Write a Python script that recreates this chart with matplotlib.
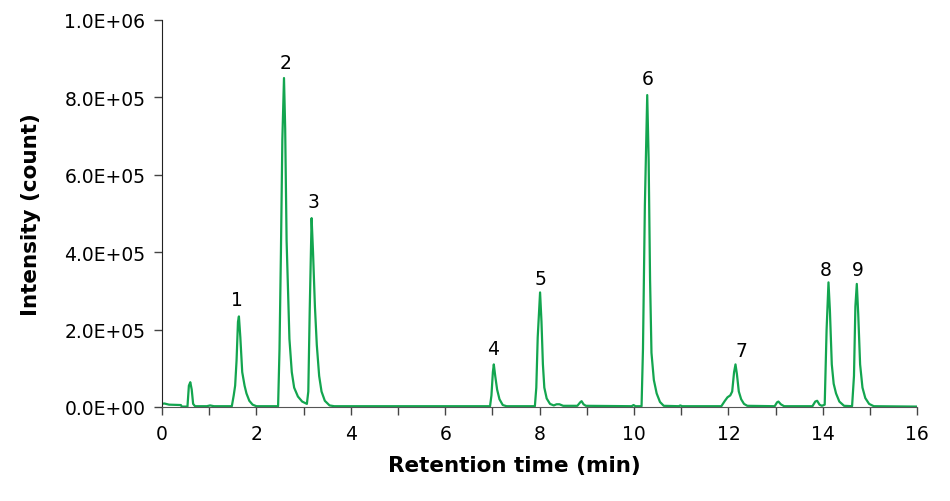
import matplotlib
matplotlib.use("Agg")
import matplotlib.pyplot as plt
from matplotlib.ticker import FuncFormatter, MultipleLocator

# trace vertices: time (min), intensity (count)
time = [0.00, 0.05, 0.15, 0.40, 0.42, 0.54, 0.57, 0.60, 0.63, 0.66, 0.70,
        0.95, 1.02, 1.10, 1.48, 1.52, 1.55, 1.58, 1.61, 1.63, 1.66, 1.70,
        1.75, 1.79, 1.85, 1.92, 2.00, 2.46, 2.49, 2.52, 2.55, 2.585, 2.61,
        2.64, 2.70, 2.75, 2.80, 2.88, 2.97, 3.07, 3.10, 3.13, 3.17, 3.20,
        3.24, 3.28, 3.33, 3.38, 3.45, 3.55, 3.65, 6.95, 6.98, 7.01, 7.03,
        7.06, 7.10, 7.15, 7.22, 7.30, 7.90, 7.93, 7.96, 8.01, 8.04, 8.07,
        8.10, 8.15, 8.22, 8.30, 8.36, 8.42, 8.50, 8.80, 8.86, 8.89, 8.93,
        8.98, 9.95, 9.99, 10.03, 10.16, 10.19, 10.23, 10.28, 10.31, 10.34,
        10.37, 10.42, 10.48, 10.55, 10.63, 10.95, 10.98, 11.02, 11.85, 11.92,
        11.98, 12.04, 12.08, 12.12, 12.15, 12.18, 12.22, 12.27, 12.33, 12.40,
        12.98, 13.03, 13.06, 13.11, 13.18, 13.78, 13.84, 13.88, 13.93, 13.98,
        14.04, 14.08, 14.12, 14.15, 14.19, 14.23, 14.28, 14.35, 14.45, 14.62,
        14.66, 14.69, 14.72, 14.75, 14.79, 14.84, 14.90, 14.98, 15.08, 16.00]
intensity = [8e3, 9e3, 6e3, 5e3, 1e3, 1e3, 5.5e4, 6.4e4, 4.5e4, 8e3, 2e3,
             2e3, 4e3, 2e3, 2e3, 3e4, 5.5e4, 1.2e5, 2.2e5, 2.34e5, 1.8e5, 9e4,
             5.5e4, 3.5e4, 1.6e4, 6e3, 2e3, 2e3, 1.5e5, 4e5, 6.9e5, 8.5e5, 7.2e5,
             4.3e5, 1.76e5, 9e4, 5e4, 2.7e4, 1.4e4, 8e3, 4e4, 2.5e5, 4.88e5, 4e5,
             2.6e5, 1.6e5, 8e4, 4e4, 1.6e4, 4e3, 2e3, 2e3, 3e4, 9e4, 1.1e5,
             8e4, 4.5e4, 2e4, 5e3, 2e3, 2e3, 5e4, 1.8e5, 2.96e5, 2.2e5, 1.1e5,
             5e4, 2.2e4, 8e3, 4e3, 7e3, 7e3, 3e3, 3e3, 1.2e4, 1.5e4, 7e3,
             3e3, 2e3, 5e3, 2e3, 2e3, 1.5e5, 5.2e5, 8.06e5, 6.4e5, 3.3e5,
             1.4e5, 7e4, 3.5e4, 1.3e4, 3e3, 2e3, 4e3, 2e3, 2e3, 1.5e4,
             2.5e4, 3e4, 4e4, 9e4, 1.1e5, 8.5e4, 4e4, 2e4, 8e3, 3e3,
             2e3, 1.2e4, 1.4e4, 7e3, 2e3, 2e3, 1.4e4, 1.6e4, 6e3, 3e3,
             6e3, 2e5, 3.22e5, 2.5e5, 1.1e5, 6e4, 3.5e4, 1.4e4, 3e3, 2e3,
             8e4, 2.6e5, 3.18e5, 2.4e5, 1.1e5, 5e4, 2.3e4, 8e3, 2e3, 1e3]

# peak numbers and where they sit
peak_labels = ["1", "2", "3", "4", "5", "6", "7", "8", "9"]
label_t = [1.59, 2.61, 3.20, 7.01, 8.01, 10.28, 12.27, 14.07, 14.75]
label_i = [2.79e5, 8.91e5, 5.30e5, 1.50e5, 3.31e5, 8.48e5, 1.45e5, 3.54e5, 3.54e5]

fig = plt.figure(figsize=(9.5, 5.02), dpi=100)
ax = fig.add_axes([0.1705, 0.1873, 0.795, 0.7709])

ax.plot(time, intensity, color="#13a54f", lw=1.6)

for lab, t, i in zip(peak_labels, label_t, label_i):
    ax.text(t, i, lab, ha="center", va="center", fontsize=13.5, color="black")

ax.set_xlim(0, 16)
ax.set_ylim(0, 1e6)
ax.xaxis.set_major_locator(MultipleLocator(2))
ax.xaxis.set_minor_locator(MultipleLocator(1))
ax.yaxis.set_major_locator(MultipleLocator(2e5))
ax.yaxis.set_major_formatter(FuncFormatter(lambda v, p: f"{v:.1E}"))

for s in ["top", "right"]:
    ax.spines[s].set_visible(False)
ax.spines["left"].set_color("#222222")
ax.spines["bottom"].set_color("#555555")

ax.tick_params(axis="both", which="both", direction="out", length=6,
               width=1, color="#444444", labelsize=13.5, pad=6)

ax.set_xlabel("Retention time (min)", fontsize=15.5, fontweight="bold")
ax.set_ylabel("Intensity (count)", fontsize=15.5, fontweight="bold")
ax.xaxis.set_label_coords(0.466, -0.125)
ax.yaxis.set_label_coords(-0.16, 0.5)

fig.savefig("out.png", dpi=100)
